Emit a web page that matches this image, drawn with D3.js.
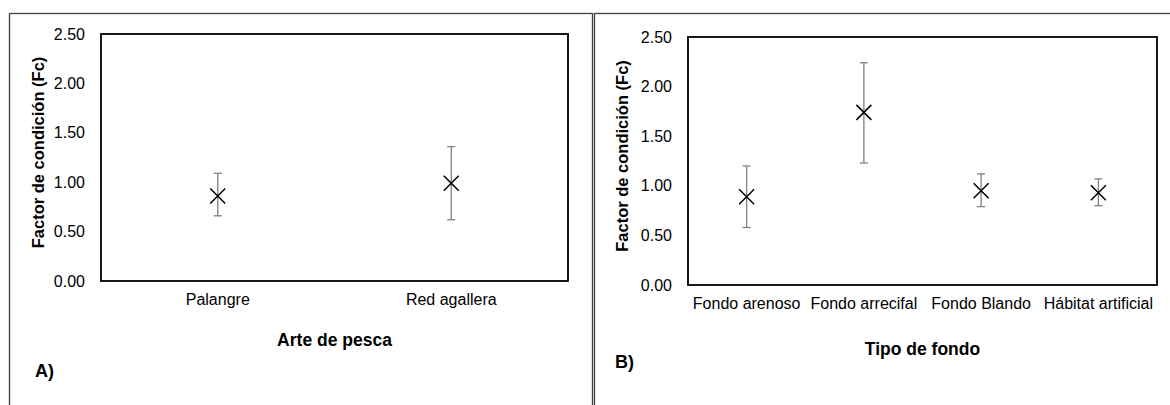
<!DOCTYPE html>
<html>
<head>
<meta charset="utf-8">
<script src="https://cdn.jsdelivr.net/npm/d3@7"></script>
<style>
  body { margin: 0; background: #fff; }
  svg { display: block; font-family: "Liberation Sans", Arial, sans-serif; }
</style>
</head>
<body>
<svg id="chart" width="1170" height="405"></svg>
<script>
// panel A: arte de pesca
var gearCats = ["Palangre", "Red agallera"];
var gearMean = [0.86, 0.99];
var gearLow  = [0.66, 0.62];
var gearHigh = [1.09, 1.36];

// panel B: tipo de fondo
var bottomCats = ["Fondo arenoso", "Fondo arrecifal", "Fondo Blando", "Hábitat artificial"];
var bottomMean = [0.89, 1.74, 0.95, 0.93];
var bottomLow  = [0.58, 1.23, 0.79, 0.80];
var bottomHigh = [1.20, 2.24, 1.12, 1.07];

var yTicks = [0, 0.5, 1, 1.5, 2, 2.5];

var svg = d3.select("#chart");

// draws one panel
function drawPanel(opt) {
    var g = svg.append("g");

    // outer frame
    g.append("rect")
        .attr("x", opt.frame[0] + 0.5).attr("y", opt.frame[1] + 0.5)
        .attr("width", opt.frame[2]).attr("height", opt.frame[3])
        .attr("fill", "none").attr("stroke", "#404040").attr("stroke-width", 1.3);

    var x = d3.scaleBand().domain(opt.cats).range([opt.left, opt.right]);
    var y = d3.scaleLinear().domain([0, 2.5]).range([opt.bottom, opt.top]);

    // y axis labels
    var yAxis = d3.axisLeft(y).tickValues(yTicks).tickFormat(d3.format(".2f")).tickSize(0).tickPadding(16);
    g.append("g").attr("transform", "translate(" + opt.left + ",0)").call(yAxis)
        .call(function(s) { s.select(".domain").remove(); })
        .selectAll("text").attr("font-size", 16).attr("fill", "#000")
        .attr("font-family", "Liberation Sans, Arial, sans-serif");

    // x axis labels
    var xAxis = d3.axisBottom(x).tickSize(0).tickPadding(13);
    g.append("g").attr("transform", "translate(0," + opt.bottom + ")").call(xAxis)
        .call(function(s) { s.select(".domain").remove(); })
        .selectAll("text").attr("font-size", 16).attr("fill", "#000")
        .attr("font-family", "Liberation Sans, Arial, sans-serif");

    // plot area border
    g.append("rect")
        .attr("x", opt.left).attr("y", opt.top)
        .attr("width", opt.right - opt.left).attr("height", opt.bottom - opt.top)
        .attr("fill", "none").attr("stroke", "#000").attr("stroke-width", 1.8);

    var pts = opt.cats.map(function(c, i) {
        return { cat: c, mean: opt.mean[i], lo: opt.low[i], hi: opt.high[i] };
    });

    var cx = function(d) { return x(d.cat) + x.bandwidth() / 2; };

    // error bars
    var eb = g.append("g").attr("stroke", "#808080").attr("stroke-width", 1.3);
    eb.selectAll(".v").data(pts).enter().append("line")
        .attr("x1", cx).attr("x2", cx)
        .attr("y1", function(d) { return y(d.lo); })
        .attr("y2", function(d) { return y(d.hi); });
    eb.selectAll(".ct").data(pts).enter().append("line")
        .attr("x1", function(d) { return cx(d) - 4; }).attr("x2", function(d) { return cx(d) + 4; })
        .attr("y1", function(d) { return y(d.hi); }).attr("y2", function(d) { return y(d.hi); });
    eb.selectAll(".cb").data(pts).enter().append("line")
        .attr("x1", function(d) { return cx(d) - 4; }).attr("x2", function(d) { return cx(d) + 4; })
        .attr("y1", function(d) { return y(d.lo); }).attr("y2", function(d) { return y(d.lo); });

    // X markers
    g.selectAll(".mk").data(pts).enter().append("path")
        .attr("d", function(d) {
            var px = cx(d), py = y(d.mean), r = 7.5;
            return "M" + (px - r) + "," + (py - r) + "L" + (px + r) + "," + (py + r) +
                   "M" + (px - r) + "," + (py + r) + "L" + (px + r) + "," + (py - r);
        })
        .attr("stroke", "#000").attr("stroke-width", 1.5).attr("fill", "none");

    // y title
    g.append("text")
        .attr("transform", "translate(" + opt.yTitleX + "," + ((opt.top + opt.bottom) / 2 - 5) + ") rotate(-90)")
        .attr("text-anchor", "middle").attr("dy", "0.35em")
        .attr("font-size", 16.5).attr("font-weight", "bold")
        .text("Factor de condición (Fc)");

    // x title
    g.append("text")
        .attr("x", (opt.left + opt.right) / 2).attr("y", opt.xTitleY)
        .attr("text-anchor", "middle").attr("dy", "0.35em")
        .attr("font-size", 17.5).attr("font-weight", "bold")
        .text(opt.xTitle);

    // panel letter
    g.append("text")
        .attr("x", opt.letterPos[0]).attr("y", opt.letterPos[1])
        .attr("dy", "0.35em")
        .attr("font-size", 18).attr("font-weight", "bold")
        .text(opt.letter);
}

drawPanel({
    frame: [9, 13, 583, 400],
    cats: gearCats, mean: gearMean, low: gearLow, high: gearHigh,
    left: 101, right: 568, top: 34, bottom: 281,
    yTitleX: 38, xTitleY: 340, xTitle: "Arte de pesca",
    letter: "A)", letterPos: [35, 371]
});

drawPanel({
    frame: [594, 13, 590, 400],
    cats: bottomCats, mean: bottomMean, low: bottomLow, high: bottomHigh,
    left: 688, right: 1157, top: 37, bottom: 285,
    yTitleX: 622, xTitleY: 349, xTitle: "Tipo de fondo",
    letter: "B)", letterPos: [615, 362]
});
</script>
</body>
</html>
